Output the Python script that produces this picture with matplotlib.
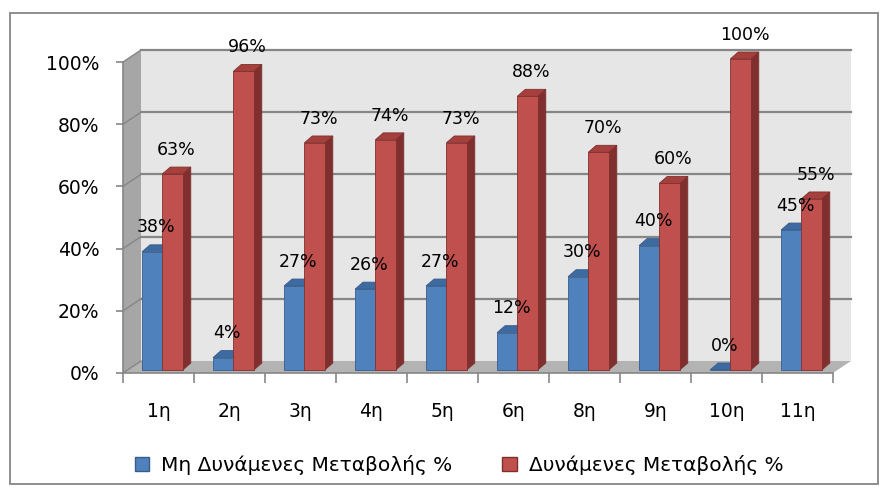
import numpy as np
import matplotlib
matplotlib.use("Agg")
import matplotlib.pyplot as plt
from matplotlib.patches import Polygon, Rectangle, Patch

plt.rcParams['font.family'] = ['DejaVu Sans']

# data
categories = ['1η', '2η', '3η', '4η', '5η', '6η', '8η', '9η', '10η', '11η']
mi_dynamenes = [38, 4, 27, 26, 27, 12, 30, 40, 0, 45]
dynamenes = [63, 96, 73, 74, 73, 88, 70, 60, 100, 55]
series_names = ['Μη Δυνάμενες Μεταβολής %', 'Δυνάμενες Μεταβολής %']

# colours (front, top, side)
blue = ('#4f81bd', '#3d6aa0', '#385d8a')
red = ('#c0504d', '#a5403d', '#7f302e')
grid_col = '#868686'

W, H = 886, 496
fig = plt.figure(figsize=(W / 100, H / 100), dpi=100)

# front plane of the plot area, in pixels
x_left, x_right = 123, 833
y0, y100 = 373, 62
ax = fig.add_axes([x_left / W, (H - y0) / H, (x_right - x_left) / W, (y0 - y100) / H])
n = len(categories)
ax.set_xlim(0, n)
ax.set_ylim(0, 1)
ax.patch.set_alpha(0)

px_x = (x_right - x_left) / n
px_y = (y0 - y100)
DX, DY = 18 / px_x, 12 / px_y          # depth of the box
bdx, bdy = 8 / px_x, 7 / px_y          # depth of a bar
f = 0.25                               # bars sit a little behind the front
width = 20.5 / px_x

# walls
ax.add_patch(Polygon([(DX, DY), (n + DX, DY), (n + DX, 1 + DY), (DX, 1 + DY)],
                     closed=True, fc='#e6e6e6', ec='none', zorder=0, clip_on=False))
ax.add_patch(Polygon([(0, 0), (n, 0), (n + DX, DY), (DX, DY)],
                     closed=True, fc='#b3b3b3', ec='none', zorder=0, clip_on=False))
ax.add_patch(Polygon([(0, 0), (DX, DY), (DX, 1 + DY), (0, 1)],
                     closed=True, fc='#a6a6a6', ec='none', zorder=0, clip_on=False))
for v in np.arange(0.2, 1.01, 0.2):
    ax.plot([DX, n + DX], [v + DY, v + DY], color=grid_col, lw=1.6, zorder=1, clip_on=False)
for v in np.arange(0, 1.01, 0.2):
    ax.plot([0, DX], [v, v + DY], color=grid_col, lw=1.0, zorder=1, clip_on=False)


def bar3d(x0, val, cols, z):
    b = f * DY
    xs = x0 + f * DX
    ax.bar(xs, val, width=width, bottom=b, align='edge', color=cols[0],
           edgecolor=cols[2], linewidth=0.6, zorder=z + 2, clip_on=False)
    top = b + val
    ax.add_patch(Polygon([(xs, top), (xs + width, top), (xs + width + bdx, top + bdy),
                          (xs + bdx, top + bdy)], closed=True, fc=cols[1], ec=cols[2],
                         lw=0.6, zorder=z + 1, clip_on=False))
    ax.add_patch(Polygon([(xs + width, b), (xs + width + bdx, b + bdy),
                          (xs + width + bdx, top + bdy), (xs + width, top)], closed=True,
                         fc=cols[2], ec=cols[2], lw=0.6, zorder=z, clip_on=False))
    return xs + width / 2, top


z = 3
for i in range(n):
    for j, (vals, cols) in enumerate([(mi_dynamenes, blue), (dynamenes, red)]):
        v = vals[i] / 100
        cx, top = bar3d(i + 0.205 + j * 0.285, v, cols, z)
        z += 3
        ax.annotate(f'{vals[i]}%', (cx + bdx / 2, top + bdy), xytext=(0, 6),
                    textcoords='offset points', ha='center', va='bottom',
                    fontsize=12.5, color='black', zorder=200, annotation_clip=False)

# axes
for s in ['top', 'right']:
    ax.spines[s].set_visible(False)
for s in ['left', 'bottom']:
    ax.spines[s].set_color(grid_col)
    ax.spines[s].set_linewidth(1.2)
    ax.spines[s].set_zorder(2)
ax.set_yticks(np.arange(0, 1.01, 0.2))
ax.set_yticklabels([f'{int(round(t * 100))}%' for t in np.arange(0, 1.01, 0.2)])
ax.tick_params(axis='y', length=5, width=1.2, color=grid_col, pad=12, labelsize=13.5)
ax.set_xticks(np.arange(n) + 0.5)
ax.set_xticklabels(categories)
ax.set_xticks(np.arange(n + 1), minor=True)
ax.tick_params(axis='x', which='major', length=0, pad=21, labelsize=13.5)
ax.tick_params(axis='x', which='minor', length=7, width=1.2, color=grid_col)

# legend
handles = [Patch(fc=blue[0], ec=blue[2], lw=1.0), Patch(fc=red[0], ec=red[2], lw=1.0)]
fig.legend(handles, series_names, loc='center', bbox_to_anchor=(459 / W, 1 - 465 / H),
           ncol=2, frameon=False, fontsize=14.5, handlelength=0.7, handleheight=0.7,
           handletextpad=0.6, columnspacing=2.5)

# outer border
fig.add_artist(Rectangle((10 / W, 1 - 484 / H), 868 / W, 471 / H, transform=fig.transFigure,
                         fill=False, ec='#868686', lw=1.3))

fig.savefig('out.png', dpi=100)
